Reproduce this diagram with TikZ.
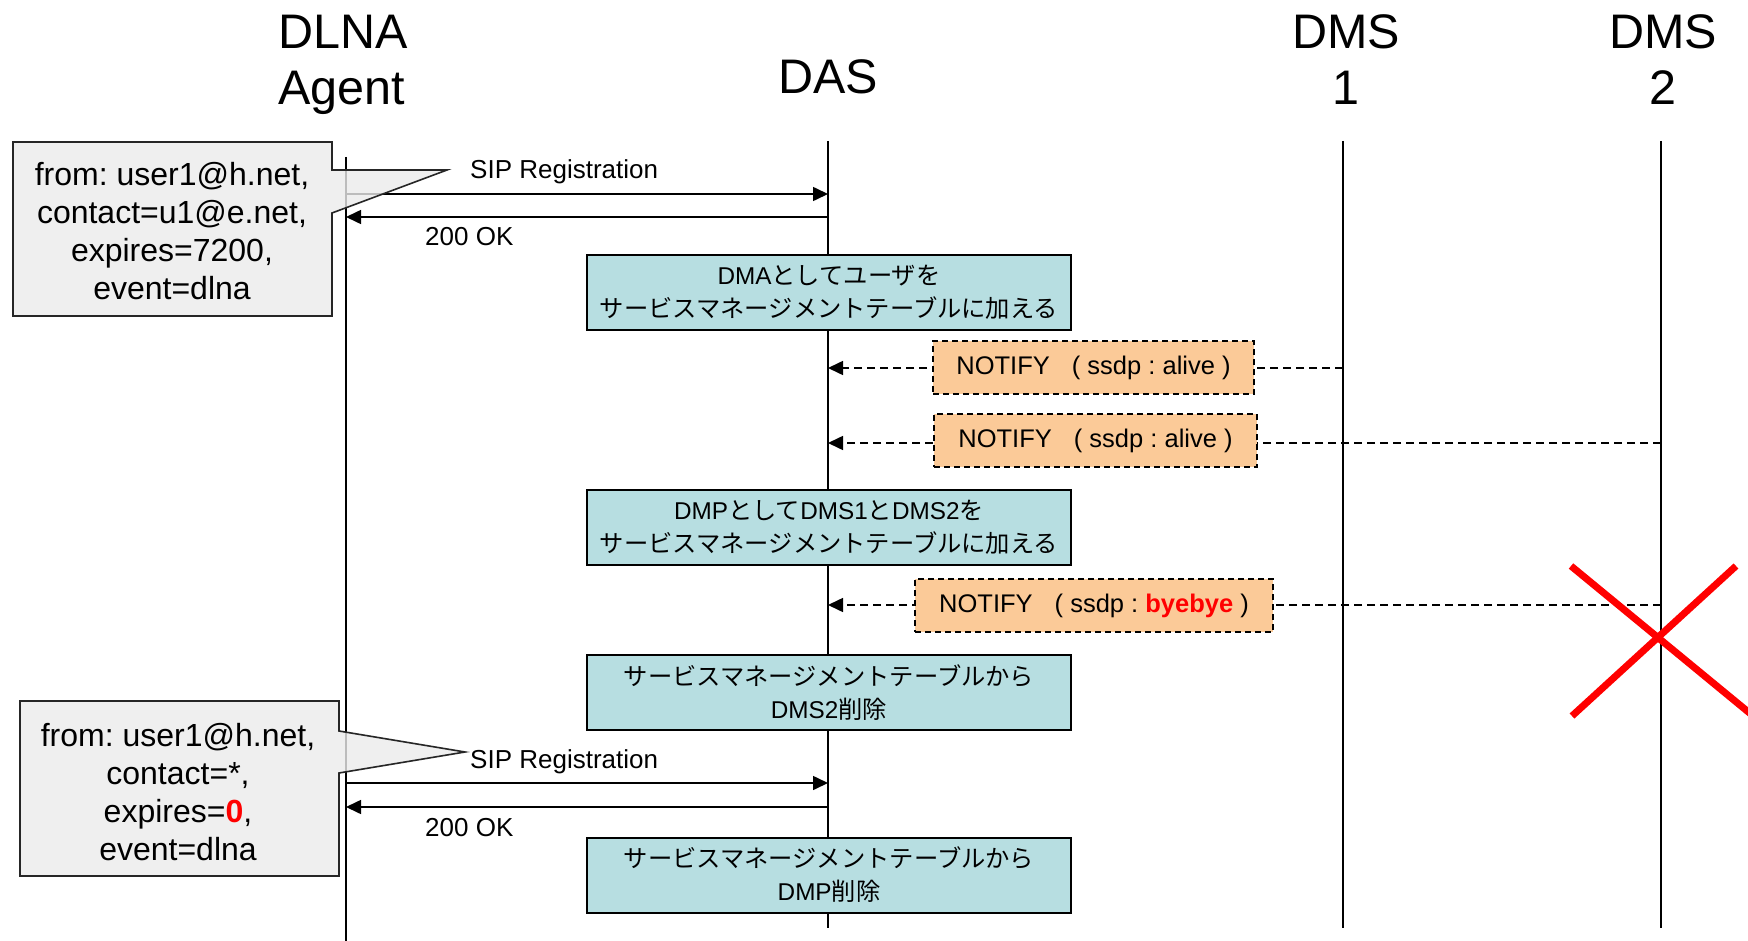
\documentclass[tikz,border=0pt]{standalone}
\usepackage{fontspec}
\setmainfont{Liberation Sans}
\newfontfamily\cjk{Noto Sans CJK JP}
\usetikzlibrary{arrows.meta}
\frenchspacing
\definecolor{tealfill}{HTML}{B7DEE1}
\definecolor{orngfill}{HTML}{FBCA98}
\definecolor{callg}{HTML}{EBEBEB}
\definecolor{xred}{HTML}{FF0000}
\tikzset{
  lifeline/.style={line width=2pt},
  msg/.style={line width=1.6pt,-{Triangle[length=15pt,width=14pt]}},
  dmsg/.style={msg,dash pattern=on 8pt off 5pt},
  tealbox/.style={draw,line width=2pt,fill=tealfill,minimum height=75pt,minimum width=484pt,align=center,inner sep=0pt,font=\fontsize{24.3}{33}\selectfont},
  notebox/.style={draw,line width=1.6pt,dash pattern=on 6pt off 4pt,fill=orngfill,minimum height=53pt,inner sep=0pt,font=\fontsize{25.5}{30}\selectfont},
  head/.style={font=\fontsize{48.5}{57}\selectfont,anchor=base,inner sep=0pt},
  lbl/.style={font=\fontsize{26}{30}\selectfont,anchor=base west,inner sep=0pt},
  calltext/.style={font=\fontsize{32}{38}\selectfont,align=center,inner sep=0pt},
  callout/.style={draw=black!85,line width=1.6pt,fill=callg,fill opacity=0.8},
}
\begin{document}
\begin{tikzpicture}[x=1pt,y=-1pt]
\useasboundingbox[fill=white] (0,0) rectangle (1748,941);
% headers
\node[head] (hA1) at (343,49) {DLNA};
\node[head] (hA2) at (342,105) {Agent};
\node[head] (hD) at (828,94) {DAS};
\node[head] (hS1a) at (1346,49) {DMS};
\node[head] (hS1b) at (1346,105) {1};
\node[head] (hS2a) at (1663,49) {DMS};
\node[head] (hS2b) at (1663,105) {2};
% lifeline ends
\coordinate (agT) at (346,157); \coordinate (agB) at (346,941);
\coordinate (dasT) at (828,141); \coordinate (dasB) at (828,928);
\coordinate (s1T) at (1343,141); \coordinate (s1B) at (1343,928);
\coordinate (s2T) at (1661,141); \coordinate (s2B) at (1661,928);
\draw[lifeline] (agT) -- (agB);
\draw[lifeline] (dasT) -- (dasB);
\draw[lifeline] (s1T) -- (s1B);
\draw[lifeline] (s2T) -- (s2B);
% message points
\coordinate (a1) at (346,194); \coordinate (d1) at (828,194);
\coordinate (a2) at (346,217); \coordinate (d2) at (828,217);
\coordinate (a3) at (346,783); \coordinate (d3) at (828,783);
\coordinate (a4) at (346,807); \coordinate (d4) at (828,807);
\coordinate (n1s) at (1343,368); \coordinate (n1d) at (828,368);
\coordinate (n2s) at (1661,443); \coordinate (n2d) at (828,443);
\coordinate (n3s) at (1661,605); \coordinate (n3d) at (828,605);
\draw[msg] (a1) -- (d1);
\draw[msg] (d2) -- (a2);
\draw[msg] (a3) -- (d3);
\draw[msg] (d4) -- (a4);
\draw[dmsg] (n1s) -- (n1d);
\draw[dmsg] (n2s) -- (n2d);
\draw[dmsg] (n3s) -- (n3d);
% labels
\node[lbl] (l1) at (470,179) {SIP Registration};
\node[lbl] (l2) at (425,246) {200 OK};
\node[lbl] (l3) at (470,768) {SIP Registration};
\node[lbl] (l4) at (425,836) {200 OK};
% teal boxes
\node[tealbox] (b1) at (829,292.5) {DMA{\cjk としてユーザを}\\{\cjk サービスマネージメントテーブルに加える}};
\node[tealbox] (b2) at (829,527) {DMP{\cjk として}DMS1{\cjk と}DMS2{\cjk を}\\{\cjk サービスマネージメントテーブルに加える}};
\node[tealbox] (b3) at (829,692.5) {{\cjk サービスマネージメントテーブルから}\\DMS2{\cjk 削除}};
\node[tealbox] (b4) at (829,875) {{\cjk サービスマネージメントテーブルから}\\DMP{\cjk 削除}};
% notify boxes
\node[notebox,minimum width=321pt] (nb1) at (1093.5,367.5) {NOTIFY\hspace{22pt}( ssdp : alive )};
\node[notebox,minimum width=323pt] (nb2) at (1095.5,440.5) {NOTIFY\hspace{22pt}( ssdp : alive )};
\node[notebox,minimum width=358pt] (nb3) at (1094,605.5) {NOTIFY\hspace{22pt}( ssdp : \textcolor{xred}{\textbf{byebye}} )};
% callouts
\draw[callout] (13,142) -- (332,142) -- (332,170) -- (447,170) -- (332,213) -- (332,316) -- (13,316) -- cycle;
\node[calltext] (c1) at (172,231) {from: user1@h.net,\\contact=u1@e.net,\\expires=7200,\\event=dlna};
\draw[callout] (20,701) -- (339,701) -- (339,731) -- (465,752) -- (339,773) -- (339,876) -- (20,876) -- cycle;
\node[calltext] (c2) at (178,792) {from: user1@h.net,\\contact=*,\\expires=\textcolor{xred}{\textbf{0}},\\event=dlna};
% red cross
\draw[xred,line width=7pt] (1571,566) -- (1752,715);
\draw[xred,line width=7pt] (1736,566) -- (1572,716);
\end{tikzpicture}
\end{document}
